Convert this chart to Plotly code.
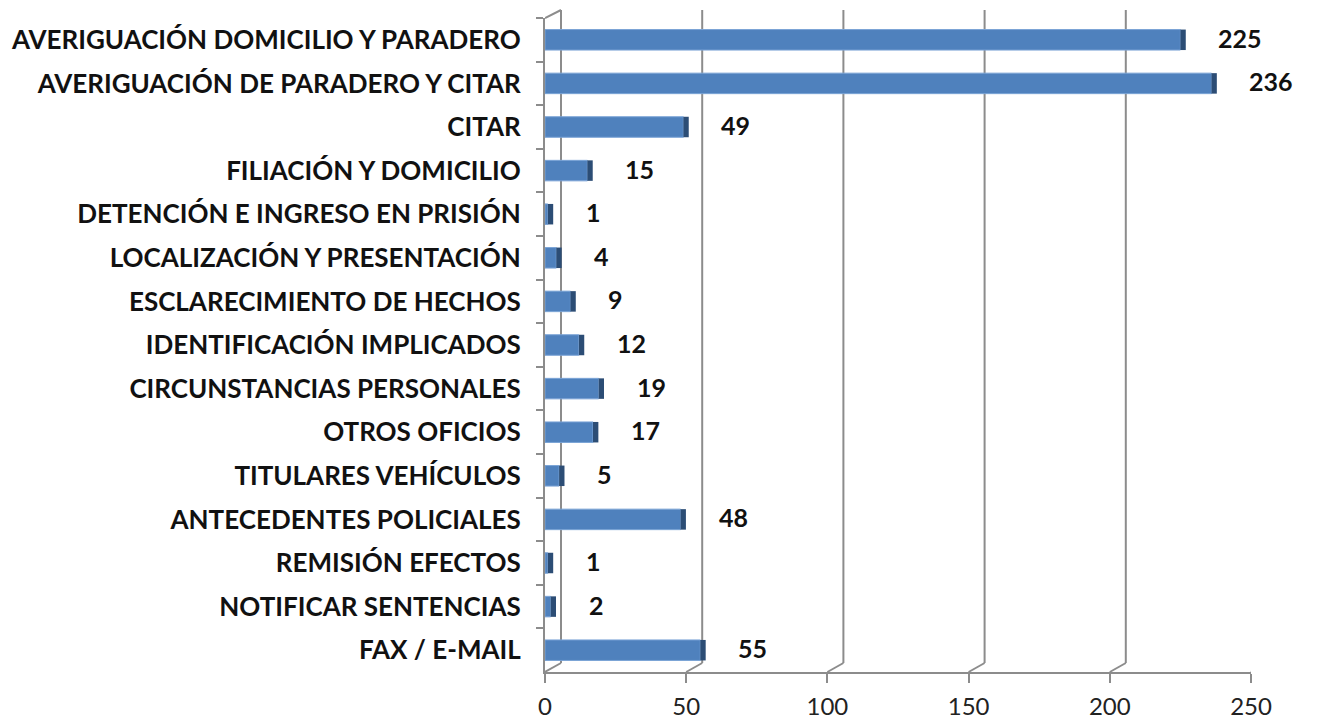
import plotly.graph_objects as go

categories = [
    "AVERIGUACIÓN DOMICILIO Y PARADERO",
    "AVERIGUACIÓN DE PARADERO Y CITAR",
    "CITAR",
    "FILIACIÓN Y DOMICILIO",
    "DETENCIÓN E INGRESO EN PRISIÓN",
    "LOCALIZACIÓN Y PRESENTACIÓN",
    "ESCLARECIMIENTO DE HECHOS",
    "IDENTIFICACIÓN IMPLICADOS",
    "CIRCUNSTANCIAS PERSONALES",
    "OTROS OFICIOS",
    "TITULARES VEHÍCULOS",
    "ANTECEDENTES POLICIALES",
    "REMISIÓN EFECTOS",
    "NOTIFICAR SENTENCIAS",
    "FAX / E-MAIL",
]
values = [225, 236, 49, 15, 1, 4, 9, 12, 19, 17, 5, 48, 1, 2, 55]
tick_values = [0, 50, 100, 150, 200, 250]
tick_labels = ["0", "50", "100", "150", "200", "250"]

W, H = 1317, 722
ML, MR, MT, MB = 545, 66, 18, 50
plot_h = H - MT - MB
DX, DY = 16, 9  # depth offset of back wall in pixels

FONT = "Lato"
GRID = "#8c8c8c"
BAR = "#4f81bd"
CAP = "#2c4d75"

fig = go.Figure()
fig.add_trace(go.Bar(
    y=categories, x=values, orientation="h", width=0.47,
    marker=dict(color=BAR, line=dict(color="#7aa3d6", width=1)),
    hoverinfo="x+y",
))
fig.add_trace(go.Bar(
    y=categories, x=[1.9] * len(values), base=values, orientation="h", width=0.47,
    marker=dict(color=CAP, line=dict(width=0)),
    hoverinfo="skip",
))

shapes = []
for v in tick_values:
    # back-wall vertical gridline
    shapes.append(dict(type="line", xref="x", xsizemode="pixel", xanchor=v,
                       x0=DX, x1=DX, yref="paper", y0=DY / plot_h, y1=1 + 8 / plot_h,
                       line=dict(color=GRID, width=2), layer="below"))
    # floor diagonal connector
    shapes.append(dict(type="line", xref="x", xsizemode="pixel", xanchor=v,
                       x0=0, x1=DX, yref="paper", y0=0, y1=DY / plot_h,
                       line=dict(color=GRID, width=2), layer="below"))
# top-left diagonal connector of the side wall
shapes.append(dict(type="line", xref="x", xsizemode="pixel", xanchor=tick_values[0],
                   x0=0, x1=DX, yref="paper", y0=1, y1=1 + 8 / plot_h,
                   line=dict(color=GRID, width=2), layer="below"))

annotations = []
for c, v in zip(categories, values):
    annotations.append(dict(x=v, y=c, xref="x", yref="y", text=str(v),
                            showarrow=False, xanchor="left", yshift=2, xshift=36,
                            font=dict(family=FONT, size=25, color="#111111", weight="bold")))

fig.update_layout(
    width=W, height=H,
    margin=dict(l=ML, r=MR, t=MT, b=MB, pad=0, autoexpand=False),
    paper_bgcolor="white", plot_bgcolor="white",
    showlegend=False, barmode="overlay",
    shapes=shapes, annotations=annotations,
    xaxis=dict(range=[0, 250], tickvals=tick_values, ticktext=tick_labels,
               showgrid=False, zeroline=False, showline=True, linecolor=GRID, linewidth=2,
               ticks="outside", ticklen=9, tickwidth=2, tickcolor=GRID,
               tickfont=dict(family=FONT, size=24, color="#222222"),
               ticklabelstandoff=3, automargin=False, fixedrange=True),
    yaxis=dict(autorange="reversed", type="category",
               showgrid=False, zeroline=False, showline=True, linecolor=GRID, linewidth=2,
               ticks="outside", ticklen=7, tickwidth=2, tickcolor=GRID, tickson="boundaries",
               tickfont=dict(family=FONT, size=26, color="#111111", weight="bold"),
               ticklabelstandoff=17, automargin=False, fixedrange=True),
)

fig.write_html("out.html", config={"displayModeBar": False},
               post_script="document.body.style.margin='0px';")
